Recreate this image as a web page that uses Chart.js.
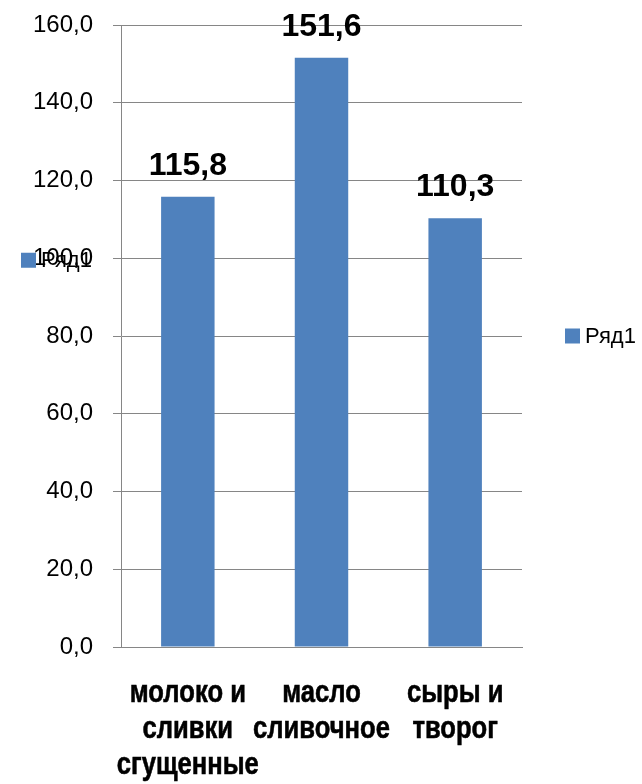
<!DOCTYPE html>
<html lang="ru">
  <head>
    <meta charset="UTF-8" />
    <title>Ряд1</title>
    <script src="https://cdn.jsdelivr.net/npm/chart.js"></script>
    <style>
      body {
        margin: 0;
        padding: 0;
        background: #fff;
      }
      #wrap {
        width: 642px;
        height: 784px;
      }
    </style>
  </head>
  <body>
    <div id="wrap"><canvas id="chart"></canvas></div>

    <script>
      const categories = [
        ["молоко и", "сливки", "сгущенные"],
        ["масло", "сливочное"],
        ["сыры и", "творог"],
      ];
      const seriesName = "Ряд1";
      const values = [115.8, 151.6, 110.3];
      const yTicks = [0, 20, 40, 60, 80, 100, 120, 140, 160];
      const yTickLabels = ["0,0", "20,0", "40,0", "60,0", "80,0", "100,0", "120,0", "140,0", "160,0"];

      const barColor = "#4F81BD";
      const gridColor = "#868686";
      const fmt = (v) => v.toFixed(1).replace(".", ",");

      // value labels above the bars
      const barLabels = {
        id: "barLabels",
        afterDatasetsDraw(chart) {
          const ctx = chart.ctx;
          const meta = chart.getDatasetMeta(0);
          ctx.save();
          ctx.font = "bold 32px 'Liberation Sans', Arial, sans-serif";
          ctx.fillStyle = "#000";
          ctx.textAlign = "center";
          ctx.textBaseline = "alphabetic";
          meta.data.forEach((bar, i) => {
            ctx.fillText(fmt(values[i]), bar.x, bar.y - 22);
          });
          ctx.restore();
        },
      };

      // category names in a narrow bold face (no Arial Narrow here, so squeeze it)
      const catLabels = {
        id: "catLabels",
        afterDraw(chart) {
          const ctx = chart.ctx;
          const xs = chart.scales.x;
          const squeeze = 0.8;
          ctx.save();
          ctx.font = "bold 32px 'Liberation Sans', Arial, sans-serif";
          ctx.fillStyle = "#000";
          ctx.strokeStyle = "#000";
          ctx.lineWidth = 0.6;
          ctx.textAlign = "center";
          ctx.textBaseline = "alphabetic";
          categories.forEach((lines, i) => {
            const cx = xs.getPixelForValue(i);
            lines.forEach((line, j) => {
              ctx.save();
              ctx.translate(cx, xs.top + 55 + j * 36);
              ctx.scale(squeeze, 1);
              ctx.fillText(line, 0, 0);
              ctx.strokeText(line, 0, 0);
              ctx.restore();
            });
          });
          ctx.restore();
        },
      };

      // legend on the right plus the stray copy on the left, as in the original
      const legends = {
        id: "legends",
        afterDraw(chart) {
          const ctx = chart.ctx;
          const y = chart.scales.y;
          ctx.save();
          ctx.font = "22px 'Liberation Sans', Arial, sans-serif";
          ctx.textBaseline = "middle";
          ctx.textAlign = "left";
          const spots = [
            { x: 565, y: (chart.chartArea.top + chart.chartArea.bottom) / 2 },
            { x: 21, y: y.getPixelForValue(100) + 2 },
          ];
          spots.forEach((s) => {
            ctx.fillStyle = barColor;
            ctx.fillRect(s.x, s.y - 7.5, 15, 15);
            ctx.fillStyle = "#000";
            ctx.fillText(seriesName, s.x + 20, s.y + 1);
          });
          ctx.restore();
        },
      };

      new Chart(document.getElementById("chart"), {
        type: "bar",
        data: {
          labels: categories,
          datasets: [
            {
              label: seriesName,
              data: values,
              backgroundColor: barColor,
              barPercentage: 0.4,
              categoryPercentage: 1.0,
            },
          ],
        },
        options: {
          responsive: true,
          maintainAspectRatio: false,
          animation: false,
          layout: { padding: { top: 25, right: 120, left: 0, bottom: 0 } },
          plugins: {
            legend: { display: false },
            tooltip: { enabled: false },
          },
          scales: {
            x: {
              grid: { display: false, drawTicks: false },
              border: { display: true, color: gridColor, width: 1 },
              ticks: { display: false },
              afterFit(axis) {
                axis.height = 137;
                axis.paddingLeft = 0;
                axis.paddingRight = 0;
              },
            },
            y: {
              min: 0,
              max: 160,
              afterBuildTicks(axis) {
                axis.ticks = yTicks.map((v) => ({ value: v }));
              },
              grid: { color: gridColor, lineWidth: 1, tickLength: 8 },
              border: { display: true, color: gridColor, width: 1 },
              ticks: {
                color: "#000",
                padding: 20,
                font: { family: "'Liberation Sans', Arial, sans-serif", size: 24 },
                callback: (v) => yTickLabels[yTicks.indexOf(v)],
              },
              afterFit(axis) {
                axis.width = 121;
                axis.paddingTop = 0;
                axis.paddingBottom = 0;
              },
            },
          },
        },
        plugins: [barLabels, catLabels, legends],
      });
    </script>
  </body>
</html>
